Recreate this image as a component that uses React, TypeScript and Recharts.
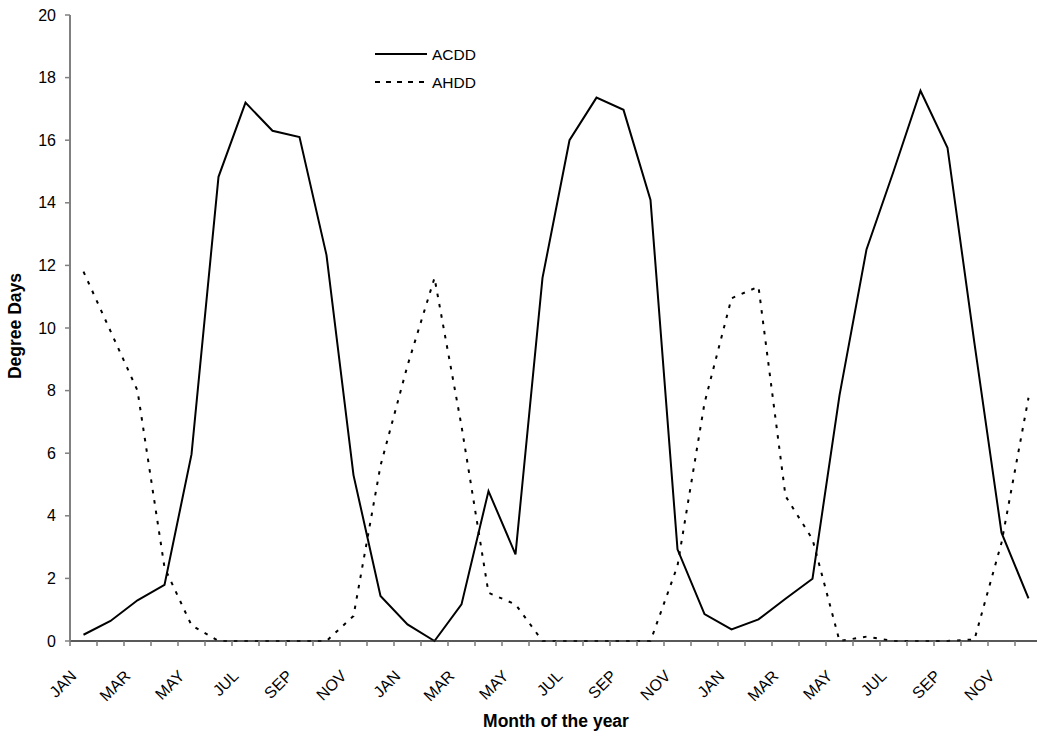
import React from "react";
import { LineChart, Line, XAxis, YAxis, Legend, Label } from "recharts";

// three years of monthly degree days
const tickLabels: string[] = [
  "JAN", "FEB", "MAR", "APR", "MAY", "JUN", "JUL", "AUG", "SEP", "OCT", "NOV", "DEC",
  "JAN", "FEB", "MAR", "APR", "MAY", "JUN", "JUL", "AUG", "SEP", "OCT", "NOV", "DEC",
  "JAN", "FEB", "MAR", "APR", "MAY", "JUN", "JUL", "AUG", "SEP", "OCT", "NOV", "DEC",
];

const acdd: number[] = [
  0.2, 0.64, 1.3, 1.79, 5.96, 14.83, 17.2, 16.3, 16.1, 12.33, 5.3, 1.44,
  0.53, 0, 1.17, 4.79, 2.77, 11.6, 16.0, 17.36, 16.97, 14.09, 2.93, 0.86,
  0.37, 0.69, 1.35, 1.99, 7.85, 12.51, 15.0, 17.58, 15.76, 9.5, 3.46, 1.36,
];

const ahdd: number[] = [
  11.8, 9.9, 8.0, 2.35, 0.5, 0, 0, 0, 0, 0, 0.8, 5.6,
  8.8, 11.6, 6.87, 1.54, 1.17, 0, 0, 0, 0, 0, 2.4, 7.6,
  10.95, 11.32, 4.63, 3.25, 0, 0.14, 0, 0, 0, 0.05, 3.14, 7.77,
];

const yTicks: number[] = [0, 2, 4, 6, 8, 10, 12, 14, 16, 18, 20];

// each month sits in the middle of its slot between two tick marks
const data = tickLabels.map((m, i) => ({
  month: m,
  pos: i + 0.5,
  ACDD: acdd[i],
  AHDD: ahdd[i],
}));
const slotTicks = [...tickLabels.map((_, i) => i), tickLabels.length];

const FONT = "'Liberation Sans', Arial, sans-serif";
const PLOT_LEFT = 70;
const PLOT_RIGHT = 1042;
const HALF_SLOT = (PLOT_RIGHT - PLOT_LEFT) / tickLabels.length / 2;

const MonthTick = (props: any) => {
  const { x, y, payload } = props;
  const i = payload.value;
  if (i >= tickLabels.length || i % 2 !== 0) return null;
  const ax = x + HALF_SLOT - 6;
  const ay = y + 31;
  return (
    <text
      x={ax}
      y={ay}
      textAnchor="end"
      fontSize={16}
      fontFamily={FONT}
      fill="#000"
      transform={`rotate(-45, ${ax}, ${ay})`}
    >
      {tickLabels[i]}
    </text>
  );
};

const XTitle = (props: any) => {
  const vb = props.viewBox;
  return (
    <text
      x={vb.x + vb.width / 2}
      y={vb.y + 86}
      textAnchor="middle"
      fontSize={17.5}
      fontWeight="bold"
      fontFamily={FONT}
      fill="#000"
    >
      Month of the year
    </text>
  );
};

const YTitle = (props: any) => {
  const vb = props.viewBox;
  const cy = vb.y + vb.height / 2 - 2;
  return (
    <text
      x={21}
      y={cy}
      textAnchor="middle"
      fontSize={17.5}
      fontWeight="bold"
      fontFamily={FONT}
      fill="#000"
      transform={`rotate(-90, 21, ${cy})`}
    >
      Degree Days
    </text>
  );
};

const renderLegend = () => (
  <svg width={140} height={56}>
    <line x1={3} y1={12} x2={55} y2={12} stroke="#000" strokeWidth={2} />
    <text x={60} y={12} dy="0.36em" fontSize={15.5} fontFamily={FONT} fill="#000">
      ACDD
    </text>
    <line x1={3} y1={40} x2={55} y2={40} stroke="#000" strokeWidth={2} strokeDasharray="5 6" />
    <text x={60} y={40} dy="0.36em" fontSize={15.5} fontFamily={FONT} fill="#000">
      AHDD
    </text>
  </svg>
);

export default function App() {
  return (
    <div style={{ width: 1037, height: 736, overflow: "hidden", position: "relative", background: "#fff" }}>
      <style>{"body{margin:0;overflow:hidden}"}</style>
      <LineChart
        width={1045}
        height={736}
        data={data}
        margin={{ top: 15, right: 3, left: 0, bottom: 0 }}
      >
        <XAxis
          dataKey="pos"
          type="number"
          domain={[0, tickLabels.length]}
          ticks={slotTicks}
          interval={0}
          height={95}
          tickSize={5}
          tickMargin={0}
          tick={<MonthTick />}
          axisLine={{ stroke: "#222", strokeWidth: 1.5 }}
          tickLine={{ stroke: "#777", strokeWidth: 1.5 }}
        >
          <Label content={<XTitle />} />
        </XAxis>
        <YAxis
          domain={[0, 20]}
          ticks={yTicks}
          interval={0}
          width={70}
          tickSize={5}
          tickMargin={9}
          tick={{ fontSize: 16, fontFamily: FONT, fill: "#000" }}
          axisLine={{ stroke: "#808080", strokeWidth: 2 }}
          tickLine={{ stroke: "#808080", strokeWidth: 1.5 }}
        >
          <Label content={<YTitle />} />
        </YAxis>
        <Legend
          layout="horizontal"
          verticalAlign="middle"
          align="center"
          wrapperStyle={{ top: 42, left: 372, width: 140, height: 56 }}
          content={renderLegend}
        />
        <Line
          type="linear"
          dataKey="AHDD"
          stroke="#000"
          strokeWidth={2}
          strokeDasharray="3.5 7"
          dot={false}
          activeDot={false}
          isAnimationActive={false}
        />
        <Line
          type="linear"
          dataKey="ACDD"
          stroke="#000"
          strokeWidth={2}
          dot={false}
          activeDot={false}
          isAnimationActive={false}
        />
      </LineChart>
    </div>
  );
}
